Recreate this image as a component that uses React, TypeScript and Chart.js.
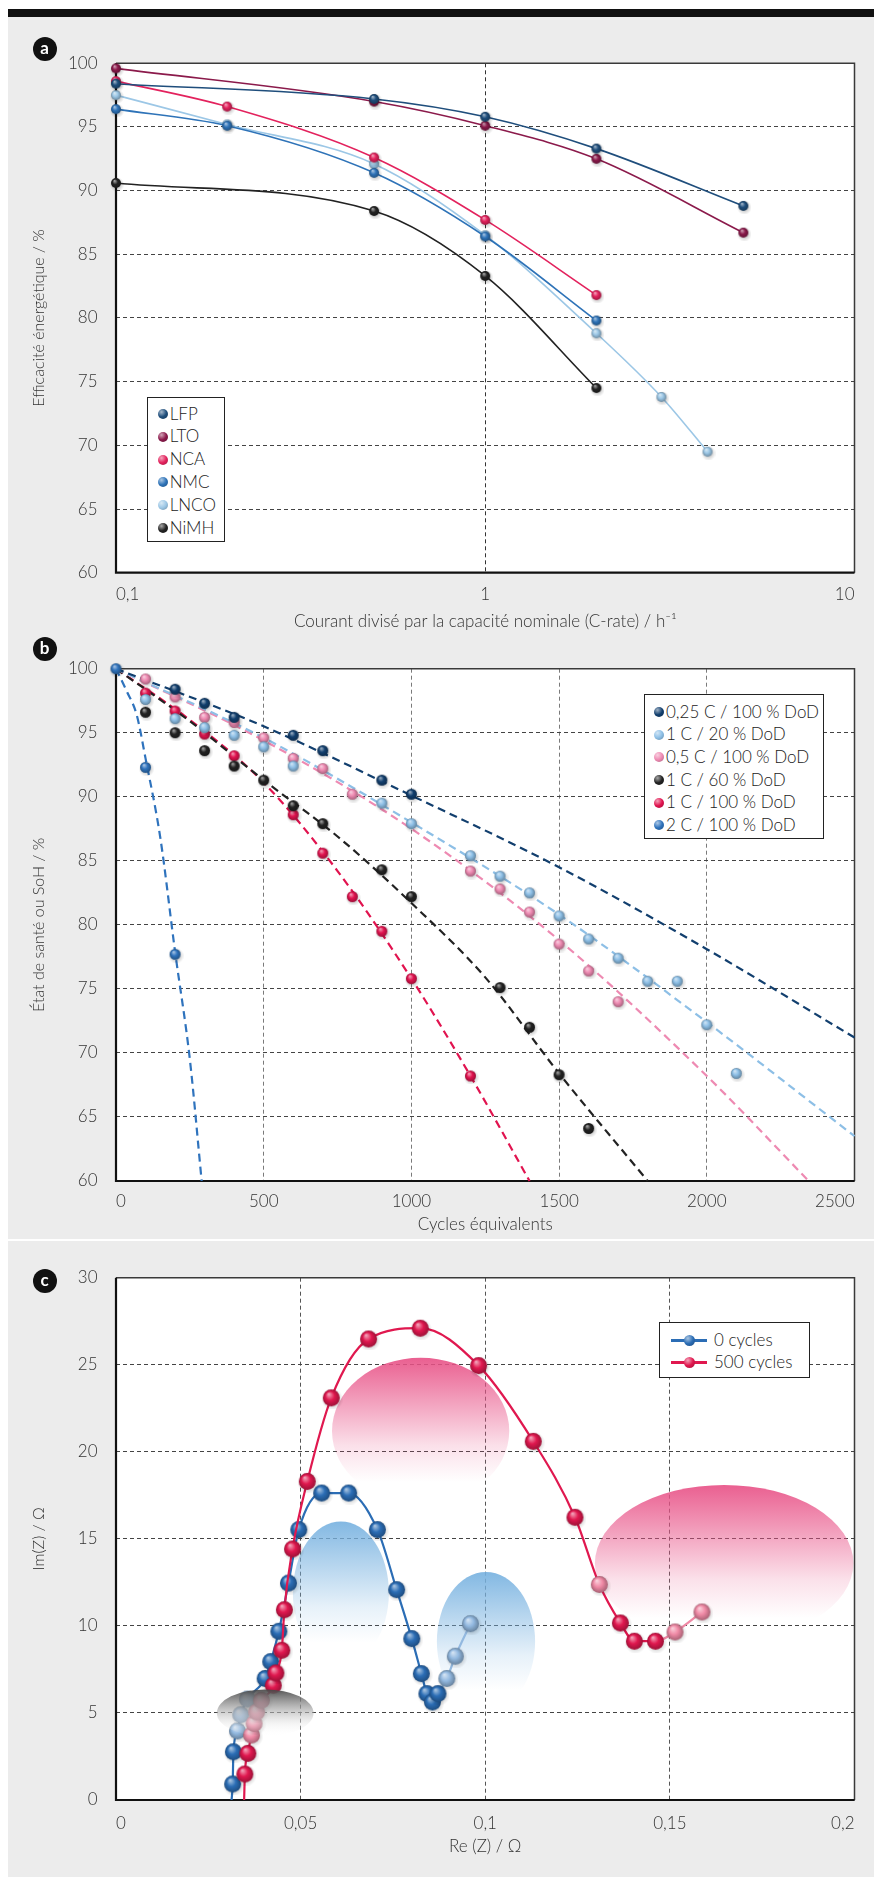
import React, { useEffect, useRef } from "react";
import { Chart, registerables } from "chart.js";

Chart.register(...registerables);

// ================= DATA =================
// Panel a : energy efficiency vs C-rate (log axis)
const aXTicks = [0.1, 1, 10];
const aNames = ["LFP", "LTO", "NCA", "NMC", "LNCO", "NiMH"];
const lfpRate = [0.1, 0.5, 1, 2, 5];
const lfpEff = [98.4, 97.2, 95.8, 93.3, 88.8];
const ltoRate = [0.1, 0.5, 1, 2, 5];
const ltoEff = [99.6, 97.0, 95.1, 92.5, 86.7];
const ncaRate = [0.1, 0.2, 0.5, 1, 2];
const ncaEff = [98.6, 96.6, 92.6, 87.7, 81.8];
const nmcRate = [0.1, 0.2, 0.5, 1, 2];
const nmcEff = [96.4, 95.1, 91.4, 86.4, 79.8];
const lncoRate = [0.1, 0.2, 0.5, 1, 2, 3, 4];
const lncoEff = [97.5, 95.2, 92.1, 86.5, 78.8, 73.8, 69.5];
const nimhRate = [0.1, 0.5, 1, 2];
const nimhEff = [90.6, 88.4, 83.3, 74.5];

// Panel b : state of health vs equivalent cycles
const bNames = ["0,25 C / 100 % DoD", "1 C / 20 % DoD", "0,5 C / 100 % DoD", "1 C / 60 % DoD", "1 C / 100 % DoD", "2 C / 100 % DoD"];
const c025Cyc = [200, 300, 400, 600, 700, 900, 1000];
const c025Soh = [98.4, 97.3, 96.2, 94.8, 93.6, 91.3, 90.2];
const c1d20Cyc = [100, 200, 300, 400, 500, 600, 900, 1000, 1200, 1300, 1400, 1500, 1600, 1700, 1800, 1900, 2000, 2100];
const c1d20Soh = [97.6, 96.1, 95.4, 94.8, 93.9, 92.4, 89.5, 87.9, 85.4, 83.8, 82.5, 80.7, 78.9, 77.4, 75.6, 75.6, 72.2, 68.4];
const c05Cyc = [100, 200, 300, 400, 500, 600, 700, 800, 1200, 1300, 1400, 1500, 1600, 1700];
const c05Soh = [99.2, 97.8, 96.2, 95.8, 94.6, 93.0, 92.2, 90.2, 84.2, 82.8, 81.0, 78.5, 76.4, 74.0];
const c1d60Cyc = [100, 200, 300, 400, 500, 600, 700, 900, 1000, 1300, 1400, 1500, 1600];
const c1d60Soh = [96.6, 95.0, 93.6, 92.4, 91.3, 89.3, 87.9, 84.3, 82.2, 75.1, 72.0, 68.3, 64.1];
const c1d100Cyc = [100, 200, 300, 400, 600, 700, 800, 900, 1000, 1200];
const c1d100Soh = [98.1, 96.7, 94.9, 93.2, 88.6, 85.6, 82.2, 79.5, 75.8, 68.2];
const c2Cyc = [0, 100, 200];
const c2Soh = [100, 92.3, 77.7];
// fitted trend lines
const fit025Cyc = [0, 500, 1000, 1500, 2000, 2500];
const fit025Soh = [100, 95.5, 90.1, 84.5, 78.1, 71.2];
const fit1d20Cyc = [0, 500, 1000, 1500, 2000, 2500];
const fit1d20Soh = [100, 94.6, 88.0, 80.8, 72.4, 63.5];
const fit05Cyc = [0, 500, 1000, 1500, 2000, 2345];
const fit05Soh = [100, 94.4, 87.5, 78.8, 68.2, 60];
const fit1d60Cyc = [0, 250, 500, 750, 1000, 1250, 1500, 1800];
const fit1d60Soh = [100, 95.9, 91.3, 86.9, 81.7, 75.9, 68.4, 60];
const fit1d100Cyc = [0, 250, 500, 750, 1000, 1200, 1400];
const fit1d100Soh = [100, 96.0, 91.1, 84.2, 75.8, 68.2, 60];
const fit2Cyc = [0, 35, 70, 100, 150, 200, 250, 290];
const fit2Soh = [100, 98.3, 96.4, 93.0, 86.8, 77.9, 69.5, 60];

// Panel c : Nyquist plot
const cNames = ["0 cycles", "500 cycles"];
const re0 = [0.0313, 0.0316, 0.0318, 0.0329, 0.0338, 0.0356, 0.0404, 0.0419, 0.0441, 0.0467, 0.0495, 0.0557, 0.063, 0.0708, 0.076, 0.0801, 0.0827, 0.0842, 0.0857, 0.0872, 0.0896, 0.0919, 0.096];
const im0 = [0, 0.92, 2.77, 3.97, 4.9, 5.8, 6.98, 7.95, 9.69, 12.46, 15.53, 17.63, 17.63, 15.53, 12.08, 9.27, 7.26, 6.11, 5.63, 6.11, 6.98, 8.26, 10.13];
const re500 = [0.0347, 0.0349, 0.0357, 0.0367, 0.0374, 0.0381, 0.0394, 0.0426, 0.0433, 0.0449, 0.0456, 0.0478, 0.0518, 0.0583, 0.0684, 0.0824, 0.0982, 0.113, 0.1243, 0.1309, 0.1366, 0.1404, 0.1461, 0.1514, 0.1587];
const im500 = [0, 1.49, 2.68, 3.73, 4.4, 5.06, 5.73, 6.59, 7.3, 8.6, 10.93, 14.42, 18.3, 23.1, 26.48, 27.1, 24.95, 20.6, 16.24, 12.38, 10.17, 9.12, 9.12, 9.65, 10.8];
// decorative translucent domes (data units)
const domeRe = [0.0825, 0.1647, 0.0609, 0.1002, 0.0404];
const domeIm = [21.2, 13.6, 11.9, 9.1, 5.0];
const domeRx = [0.024, 0.035, 0.013, 0.0133, 0.0131];
const domeRy = [4.2, 4.5, 4.1, 4.0, 1.35];

// ================= STYLE =================
const FONT = "Lato, 'Open Sans', sans-serif";
const tickFont = { family: FONT, size: 17, weight: "300" as any };
const xTitleFont = { family: FONT, size: 17, weight: "300" as any };
const yTitleFont = { family: FONT, size: 16, weight: "300" as any };
const TXT = "#333";
const aColors = ["#1f4e7c", "#8b1a4b", "#e3225d", "#2e73b8", "#9cc7e6", "#222222"];
const bColors = ["#123f6e", "#8dbfe6", "#ee8ab2", "#222222", "#e1134f", "#2f73bd"];
const cColors = ["#2b6db5", "#e0184f"];
const cFaded = ["#93b9e0", "#f08aa6"];
const domeColors = ["232,82,135", "232,82,135", "120,178,224", "120,178,224", "70,70,70"];

function hexRgb(h: string) {
  const n = parseInt(h.slice(1), 16);
  return [(n >> 16) & 255, (n >> 8) & 255, n & 255];
}
function mix(h: string, t: string, k: number) {
  const a = hexRgb(h), b = hexRgb(t);
  return `rgb(${a.map((v, i) => Math.round(v + (b[i] - v) * k)).join(",")})`;
}
const sphereCache: Record<string, HTMLCanvasElement> = {};
function sphere(color: string, r: number): HTMLCanvasElement {
  const key = color + r;
  if (sphereCache[key]) return sphereCache[key];
  const pad = 3;
  const s = Math.ceil(2 * r + 2 * pad);
  const c = document.createElement("canvas");
  c.width = s;
  c.height = s;
  const g = c.getContext("2d")!;
  const cx = s / 2, cy = s / 2;
  const sh = g.createRadialGradient(cx + 1, cy + 1.5, r * 0.4, cx + 1, cy + 1.5, r + 2.5);
  sh.addColorStop(0, "rgba(0,0,0,0.25)");
  sh.addColorStop(1, "rgba(0,0,0,0)");
  g.fillStyle = sh;
  g.beginPath();
  g.arc(cx + 1, cy + 1.5, r + 2.5, 0, Math.PI * 2);
  g.fill();
  const gr = g.createRadialGradient(cx - r * 0.3, cy - r * 0.45, r * 0.05, cx, cy, r);
  gr.addColorStop(0, mix(color, "#ffffff", 0.6));
  gr.addColorStop(0.5, color);
  gr.addColorStop(1, mix(color, "#000000", 0.3));
  g.fillStyle = gr;
  g.beginPath();
  g.arc(cx, cy, r, 0, Math.PI * 2);
  g.fill();
  sphereCache[key] = c;
  return c;
}
function cssSphere(color: string) {
  return `radial-gradient(circle at 35% 30%, ${mix(color, "#ffffff", 0.6)} 0%, ${color} 50%, ${mix(color, "#000000", 0.3)} 100%)`;
}

const zip = (xs: number[], ys: number[]) => xs.map((x, i) => ({ x, y: ys[i] }));

const framePlugin = {
  id: "frame",
  beforeDraw(chart: any) {
    const { ctx, chartArea: a } = chart;
    ctx.save();
    ctx.fillStyle = "#ffffff";
    ctx.fillRect(a.left, a.top, a.right - a.left, a.bottom - a.top);
    ctx.restore();
  },
  beforeDatasetsDraw(chart: any) {
    const { ctx, chartArea: a } = chart;
    ctx.save();
    ctx.setLineDash([]);
    ctx.strokeStyle = "#3a3a3a";
    ctx.lineWidth = 1.5;
    ctx.beginPath();
    ctx.moveTo(a.left, a.top);
    ctx.lineTo(a.right, a.top);
    ctx.lineTo(a.right, a.bottom);
    ctx.stroke();
    ctx.strokeStyle = "#111";
    ctx.lineWidth = 2.2;
    ctx.beginPath();
    ctx.moveTo(a.left, a.top);
    ctx.lineTo(a.left, a.bottom);
    ctx.lineTo(a.right, a.bottom);
    ctx.stroke();
    ctx.restore();
  },
};

function drawDome(chart: any, i: number) {
  const { ctx } = chart;
  const xs = chart.scales.x, ys = chart.scales.y;
  const cx = xs.getPixelForValue(domeRe[i]);
  const cy = ys.getPixelForValue(domeIm[i]);
  const rx = Math.abs(xs.getPixelForValue(domeRe[i] + domeRx[i]) - cx);
  const ry = Math.abs(ys.getPixelForValue(domeIm[i] + domeRy[i]) - cy);
  const col = domeColors[i];
  const g = ctx.createLinearGradient(0, cy - ry, 0, cy + ry);
  if (i === 4) {
    g.addColorStop(0, `rgba(${col},0.92)`);
    g.addColorStop(0.35, `rgba(150,150,150,0.7)`);
    g.addColorStop(0.7, `rgba(225,225,225,0.45)`);
    g.addColorStop(1, `rgba(255,255,255,0)`);
  } else {
    g.addColorStop(0, `rgba(${col},0.92)`);
    g.addColorStop(0.3, `rgba(${col},0.55)`);
    g.addColorStop(0.6, `rgba(${col},0.18)`);
    g.addColorStop(0.85, `rgba(${col},0.0)`);
    g.addColorStop(1, `rgba(${col},0)`);
  }
  ctx.save();
  ctx.fillStyle = g;
  ctx.beginPath();
  ctx.ellipse(cx, cy, rx, ry, 0, 0, Math.PI * 2);
  ctx.fill();
  ctx.restore();
}
const domePlugin = {
  id: "domes",
  beforeDatasetsDraw(chart: any) {
    for (let i = 0; i < 4; i++) drawDome(chart, i);
  },
  afterDatasetsDraw(chart: any) {
    drawDome(chart, 4);
  },
};

function axisCommon(gridColor: string, tickPad: number) {
  return {
    grid: { color: gridColor, lineWidth: 1, drawTicks: false },
    border: { display: false, dash: [4, 3] },
    ticks: { font: tickFont, color: TXT, padding: tickPad },
  };
}

// ================= CONFIGS =================
function buildA() {
  const xs = [lfpRate, ltoRate, ncaRate, nmcRate, lncoRate, nimhRate];
  const ys = [lfpEff, ltoEff, ncaEff, nmcEff, lncoEff, nimhEff];
  const datasets = aNames.map((n, i) => ({
    label: n,
    data: zip(xs[i], ys[i]),
    borderColor: aColors[i],
    backgroundColor: aColors[i],
    borderWidth: 1.6,
    pointStyle: sphere(aColors[i], 5),
    pointRadius: 5,
    cubicInterpolationMode: "monotone",
    clip: false,
  }));
  const xc = axisCommon("#333", 12);
  const yc = axisCommon("#444", 18.5);
  return {
    type: "line",
    data: { datasets },
    options: {
      animation: false,
      responsive: false,
      devicePixelRatio: 1,
      layout: { padding: { top: 43.3, right: 19.5, bottom: 8.4, left: 0 } },
      plugins: { legend: { display: false }, tooltip: { enabled: false } },
      scales: {
        x: {
          type: "logarithmic",
          min: 0.1,
          max: 10,
          ...xc,
          ticks: { ...xc.ticks, align: "inner", callback: (v: any) => String(v).replace(".", ",") },
          afterBuildTicks: (s: any) => {
            s.ticks = aXTicks.map((v) => ({ value: v }));
          },
          afterFit: (s: any) => {
            s.height = 58.9;
          },
          title: { display: true, text: "Courant divisé par la capacité nominale (C-rate) / h⁻¹", font: xTitleFont, color: TXT, padding: { top: 0, bottom: 0 } },
        },
        y: {
          min: 60,
          max: 100,
          ...yc,
          ticks: { ...yc.ticks, stepSize: 5, callback: (v: any) => String(v) },
          afterFit: (s: any) => {
            s.width = 116;
          },
          title: { display: true, text: "Efficacité énergétique / %", font: yTitleFont, color: TXT, padding: { top: 29.4, bottom: 0 } },
        },
      },
    },
    plugins: [framePlugin],
  };
}

function buildB() {
  const px = [c025Cyc, c1d20Cyc, c05Cyc, c1d60Cyc, c1d100Cyc, c2Cyc];
  const py = [c025Soh, c1d20Soh, c05Soh, c1d60Soh, c1d100Soh, c2Soh];
  const fx = [fit025Cyc, fit1d20Cyc, fit05Cyc, fit1d60Cyc, fit1d100Cyc, fit2Cyc];
  const fy = [fit025Soh, fit1d20Soh, fit05Soh, fit1d60Soh, fit1d100Soh, fit2Soh];
  const pts = bNames.map((n, i) => ({
    label: n,
    data: zip(px[i], py[i]),
    showLine: false,
    borderColor: bColors[i],
    backgroundColor: bColors[i],
    pointStyle: sphere(bColors[i], 5.5),
    pointRadius: 5.5,
    clip: false,
  }));
  const fits = bNames.map((n, i) => ({
    label: n + " (tendance)",
    data: zip(fx[i], fy[i]),
    borderColor: bColors[i],
    borderWidth: 2.2,
    borderDash: [8, 5],
    pointRadius: 0,
    cubicInterpolationMode: "monotone",
    clip: false,
  }));
  const xc = axisCommon("#7a7a7a", 10);
  const yc = axisCommon("#444", 18.5);
  return {
    type: "line",
    data: { datasets: [...pts, ...fits] },
    options: {
      animation: false,
      responsive: false,
      devicePixelRatio: 1,
      layout: { padding: { top: 24.3, right: 19.5, bottom: 5.4, left: 0 } },
      plugins: { legend: { display: false }, tooltip: { enabled: false } },
      scales: {
        x: {
          type: "linear",
          min: 0,
          max: 2500,
          ...xc,
          ticks: { ...xc.ticks, stepSize: 500, align: "inner", callback: (v: any) => String(v) },
          afterFit: (s: any) => {
            s.height = 53.6;
          },
          title: { display: true, text: "Cycles équivalents", font: xTitleFont, color: TXT, padding: { top: 0, bottom: 0 } },
        },
        y: {
          min: 60,
          max: 100,
          ...yc,
          ticks: { ...yc.ticks, stepSize: 5, callback: (v: any) => String(v) },
          afterFit: (s: any) => {
            s.width = 116;
          },
          title: { display: true, text: "État de santé ou SoH / %", font: yTitleFont, color: TXT, padding: { top: 29.4, bottom: 0 } },
        },
      },
    },
    plugins: [framePlugin],
  };
}

function buildC() {
  const fadedIdx = [
    [3, 4, 5, 20, 21, 22],
    [3, 4, 5, 6, 19, 23, 24],
  ];
  const lightFrom = [19, 22];
  const xs = [re0, re500];
  const ys = [im0, im500];
  const datasets = cNames.map((n, i) => ({
    label: n,
    data: zip(xs[i], ys[i]),
    borderColor: cColors[i],
    backgroundColor: cColors[i],
    borderWidth: 2.2,
    segment: {
      borderColor: (ctx: any) => (ctx.p0DataIndex >= lightFrom[i] ? cFaded[i] : cColors[i]),
    },
    pointStyle: (ctx: any) => (fadedIdx[i].includes(ctx.dataIndex) ? sphere(cFaded[i], 8.5) : sphere(cColors[i], 8.5)),
    pointRadius: (ctx: any) => (ctx.dataIndex === 0 ? 0 : 8.5),
    cubicInterpolationMode: "monotone",
    clip: false,
  }));
  const xc = axisCommon("#555", 13);
  const yc = axisCommon("#444", 18.5);
  return {
    type: "line",
    data: { datasets: [datasets[1], datasets[0]] },
    options: {
      animation: false,
      responsive: false,
      devicePixelRatio: 1,
      layout: { padding: { top: 35.7, right: 19.5, bottom: 20.4, left: 0 } },
      plugins: { legend: { display: false }, tooltip: { enabled: false } },
      scales: {
        x: {
          type: "linear",
          min: 0,
          max: 0.2,
          ...xc,
          ticks: { ...xc.ticks, stepSize: 0.05, align: "inner", callback: (v: any) => String(+Number(v).toFixed(2)).replace(".", ",") },
          afterFit: (s: any) => {
            s.height = 56.6;
          },
          title: { display: true, text: "Re (Z) / Ω", font: xTitleFont, color: TXT, padding: { top: 0, bottom: 0 } },
        },
        y: {
          min: 0,
          max: 30,
          ...yc,
          ticks: { ...yc.ticks, stepSize: 5, callback: (v: any) => String(v) },
          afterFit: (s: any) => {
            s.width = 116;
          },
          title: { display: true, text: "Im(Z) / Ω", font: yTitleFont, color: TXT, padding: { top: 29.4, bottom: 0 } },
        },
      },
    },
    plugins: [framePlugin, domePlugin],
  };
}

// ================= COMPONENTS =================
function ChartCanvas({ top, height, build }: { top: number; height: number; build: () => any }) {
  const ref = useRef<HTMLCanvasElement | null>(null);
  useEffect(() => {
    if (!ref.current) return;
    const chart = new Chart(ref.current, build() as any);
    return () => chart.destroy();
  }, [build]);
  return (
    <canvas
      ref={ref}
      width={874}
      height={height}
      style={{ position: "absolute", left: 0, top, width: 874, height, display: "block" }}
    />
  );
}

function PanelLabel({ x, y, text }: { x: number; y: number; text: string }) {
  return (
    <div
      style={{
        position: "absolute",
        left: x - 12,
        top: y - 12,
        width: 24,
        height: 24,
        borderRadius: "50%",
        background: "#111",
        color: "#fff",
        fontFamily: FONT,
        fontWeight: 700,
        fontSize: 17,
        lineHeight: "22px",
        textAlign: "center",
      }}
    >
      {text}
    </div>
  );
}

function Legend({
  left, top, width, height, padTop, rowH, names, colors, markerX, textX, withLine,
}: {
  left: number; top: number; width: number; height: number; padTop: number; rowH: number;
  names: string[]; colors: string[]; markerX: number; textX: number; withLine?: boolean;
}) {
  const r = withLine ? 5.5 : 5;
  return (
    <div
      style={{
        position: "absolute",
        left,
        top,
        width,
        height,
        boxSizing: "border-box",
        border: "1.5px solid #222",
        background: "#fff",
        fontFamily: FONT,
        fontWeight: 300,
        fontSize: 17,
        color: "#222",
      }}
    >
      {names.map((n, i) => {
        const cy = padTop + i * rowH + rowH / 2;
        return (
          <React.Fragment key={n}>
            {withLine && (
              <div
                style={{ position: "absolute", left: markerX - 18, top: cy - 1.5, width: 36, height: 3, background: colors[i] }}
              />
            )}
            <div
              style={{
                position: "absolute",
                left: markerX - r,
                top: cy - r,
                width: 2 * r,
                height: 2 * r,
                borderRadius: "50%",
                background: cssSphere(colors[i]),
              }}
            />
            <div
              style={{
                position: "absolute",
                left: textX,
                top: cy - rowH / 2,
                height: rowH,
                lineHeight: `${rowH}px`,
                whiteSpace: "nowrap",
              }}
            >
              {n}
            </div>
          </React.Fragment>
        );
      })}
    </div>
  );
}

export default function App() {
  return (
    <div style={{ position: "absolute", left: 0, top: 0, width: 874, height: 1877, background: "#fff", overflow: "hidden" }}>
      <div style={{ position: "absolute", left: 8, top: 17, width: 866, height: 1860, background: "#ececec" }} />
      <div style={{ position: "absolute", left: 8, top: 9, width: 866, height: 8, background: "#111" }} />
      <div style={{ position: "absolute", left: 8, top: 1239, width: 866, height: 2, background: "#fff" }} />
      <ChartCanvas top={20} height={620} build={buildA} />
      <ChartCanvas top={640} height={600} build={buildB} />
      <ChartCanvas top={1242} height={635} build={buildC} />
      <PanelLabel x={44.6} y={49} text="a" />
      <PanelLabel x={44.6} y={649} text="b" />
      <PanelLabel x={44.6} y={1281} text="c" />
      <Legend left={146.7} top={397} width={78.3} height={145} padTop={4.6} rowH={22.8} names={aNames} colors={aColors} markerX={15.3} textX={22} />
      <Legend left={644} top={694} width={180} height={145} padTop={5.6} rowH={22.7} names={bNames} colors={bColors} markerX={13.7} textX={21} />
      <Legend left={659} top={1322} width={151} height={56} padTop={6} rowH={22} names={cNames} colors={cColors} markerX={29} textX={54} withLine />
    </div>
  );
}
